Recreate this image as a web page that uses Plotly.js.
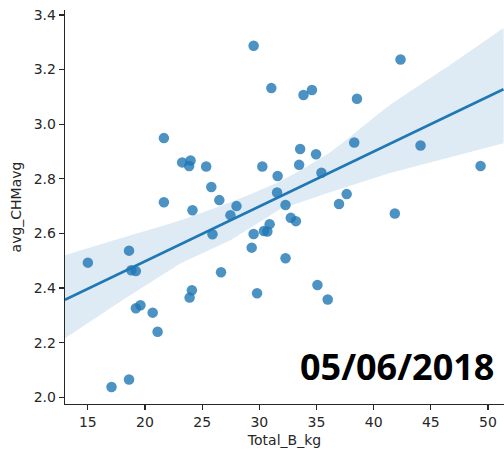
<!DOCTYPE html>
<html>
<head>
<meta charset="utf-8">
<script src="https://cdn.plot.ly/plotly-3.0.1.min.js"></script>
<style>
  html, body { margin: 0; padding: 0; background: #fff; }
  #chart { width: 504px; height: 452px; }
</style>
</head>
<body>
<div id="chart"></div>
<script>
// Scatter data: Total_B_kg vs avg_CHMavg
var totalBkg = [29.5, 31.05, 21.65, 23.25, 23.98, 23.86, 25.35, 25.8, 26.5, 21.65,
  24.15, 28.0, 27.47, 25.9, 18.6, 15.0, 18.8, 19.2, 19.2, 19.6,
  20.67, 21.1, 17.07, 18.6, 23.9, 24.1, 26.65, 29.33, 29.5, 29.8,
  30.4, 30.7, 30.9, 30.26, 31.6, 31.55, 42.35, 33.86, 34.6, 38.54,
  33.57, 34.96, 33.48, 38.3, 44.1, 49.35, 35.43, 32.29, 37.64, 36.97,
  41.85, 32.75, 33.2, 32.29, 35.08, 35.98];
var avgCHMavg = [3.287, 3.132, 2.949, 2.860, 2.867, 2.847, 2.845, 2.770, 2.722, 2.714,
  2.685, 2.700, 2.667, 2.597, 2.537, 2.493, 2.465, 2.462, 2.326, 2.337,
  2.310, 2.240, 2.038, 2.065, 2.365, 2.392, 2.458, 2.548, 2.598, 2.381,
  2.609, 2.607, 2.634, 2.845, 2.810, 2.750, 3.237, 3.107, 3.125, 3.093,
  2.909, 2.890, 2.851, 2.933, 2.922, 2.847, 2.822, 2.704, 2.744, 2.708,
  2.673, 2.657, 2.645, 2.509, 2.411, 2.358];

// Regression line and confidence band
var fitX = [12.99, 51.36];
var fitY = [2.357, 3.128];
var bandX = [12.99, 17.88, 23.11, 27.47, 31.83, 36.19, 41.42, 46.65, 51.36];
var bandUpper = [2.520, 2.582, 2.648, 2.714, 2.791, 2.897, 3.070, 3.216, 3.352];
var bandLower = [2.216, 2.352, 2.491, 2.575, 2.689, 2.751, 2.821, 2.879, 2.930];

// Ticks and labels
var xTicks = [15, 20, 25, 30, 35, 40, 45, 50];
var yTicks = [2.0, 2.2, 2.4, 2.6, 2.8, 3.0, 3.2, 3.4];
var xLabel = 'Total_B_kg';
var yLabel = 'avg_CHMavg';
var dateText = '05/06/2018';

var blue = '#1f77b4';
var ink = '#262626';

var traces = [
  { x: bandX, y: bandLower, mode: 'lines', line: { width: 0, color: 'rgba(0,0,0,0)' },
    hoverinfo: 'skip', showlegend: false },
  { x: bandX, y: bandUpper, mode: 'lines', line: { width: 0, color: 'rgba(0,0,0,0)', shape: 'spline', smoothing: 0.6 },
    fill: 'tonexty', fillcolor: 'rgba(31,119,180,0.15)', hoverinfo: 'skip', showlegend: false },
  { x: totalBkg, y: avgCHMavg, mode: 'markers', type: 'scatter',
    marker: { size: 10.5, color: 'rgba(31,119,180,0.8)', line: { width: 0 } }, showlegend: false },
  { x: fitX, y: fitY, mode: 'lines', line: { color: blue, width: 2.8 }, showlegend: false }
];

var axisCommon = {
  showline: true, linecolor: ink, linewidth: 1.25,
  ticks: 'outside', ticklen: 5, tickwidth: 1.25, tickcolor: ink,
  showgrid: false, zeroline: false, mirror: false,
  tickfont: { family: 'DejaVu Sans', size: 14, color: ink }
};

var layout = {
  width: 504, height: 452,
  margin: { l: 65, r: 0, t: 10, b: 48 },
  paper_bgcolor: '#fff', plot_bgcolor: '#fff',
  font: { family: 'DejaVu Sans', color: ink },
  xaxis: Object.assign({}, axisCommon, {
    range: [13.0, 51.4], tickvals: xTicks, ticktext: xTicks.map(String),
    title: { text: xLabel, font: { family: 'DejaVu Sans', size: 14, color: ink }, standoff: 6 }
  }),
  yaxis: Object.assign({}, axisCommon, {
    range: [1.9755, 3.418], tickvals: yTicks, ticktext: yTicks.map(function (v) { return v.toFixed(1); }),
    title: { text: yLabel, font: { family: 'DejaVu Sans', size: 14, color: ink }, standoff: 8 }
  }),
  annotations: [{
    text: '<b>' + dateText + '</b>', xref: 'paper', yref: 'paper',
    x: 0.756, y: 0.094, xanchor: 'center', yanchor: 'middle', showarrow: false,
    font: { family: 'Open Sans', size: 36, color: '#000' }
  }]
};

Plotly.newPlot('chart', traces, layout, { displayModeBar: false, staticPlot: true });
</script>
</body>
</html>
